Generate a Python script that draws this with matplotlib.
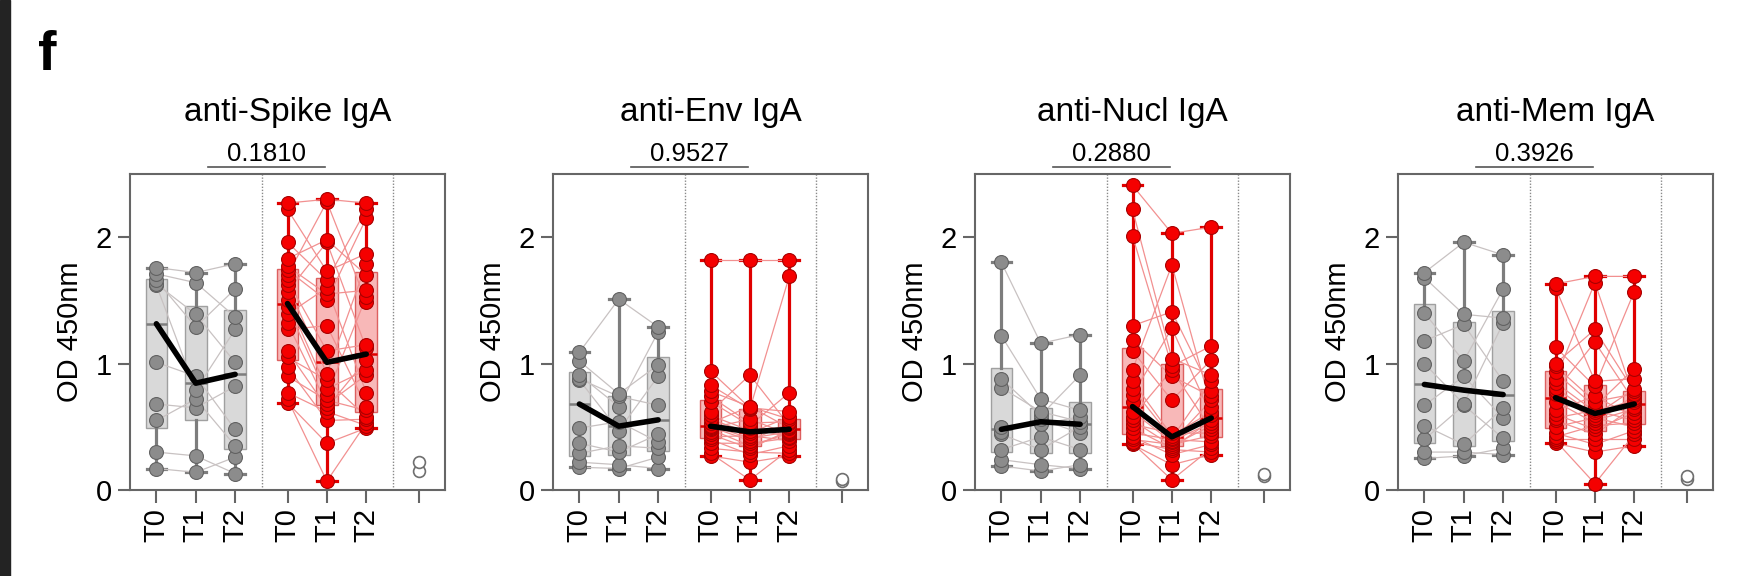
import numpy as np
import matplotlib
matplotlib.use('Agg')
import matplotlib.pyplot as plt
from matplotlib.transforms import blended_transform_factory

plt.rcParams['font.family'] = ['Liberation Sans', 'DejaVu Sans']

# --- data (OD 450nm), each list sorted low -> high ---
titles = ['anti-Spike IgA', 'anti-Env IgA', 'anti-Nucl IgA', 'anti-Mem IgA']
p_values = ['0.1810', '0.9527', '0.2880', '0.3926']
time_labels = ['T0', 'T1', 'T2']

spike_grey_t0 = [0.17, 0.30, 0.55, 0.68, 1.01, 1.62, 1.63, 1.66, 1.71, 1.76]
spike_grey_t1 = [0.14, 0.27, 0.65, 0.72, 0.79, 0.90, 1.29, 1.39, 1.64, 1.72]
spike_grey_t2 = [0.13, 0.26, 0.35, 0.48, 0.82, 1.01, 1.27, 1.37, 1.59, 1.79]
spike_red_t0 = [0.69, 0.72, 0.77, 0.90, 0.97, 1.05, 1.10, 1.27, 1.32, 1.39, 1.45,
                1.50, 1.57, 1.62, 1.66, 1.70, 1.74, 1.77, 1.83, 1.96, 2.22, 2.27]
spike_red_t1 = [0.07, 0.37, 0.55, 0.62, 0.65, 0.68, 0.71, 0.75, 0.80, 0.87, 0.92,
                1.10, 1.30, 1.50, 1.55, 1.60, 1.66, 1.73, 1.96, 1.98, 2.28, 2.30]
spike_red_t2 = [0.49, 0.51, 0.53, 0.56, 0.58, 0.63, 0.66, 0.77, 0.91, 0.95, 1.03,
                1.12, 1.15, 1.49, 1.53, 1.58, 1.70, 1.79, 1.87, 2.15, 2.22, 2.27]
spike_ctrl = [0.15, 0.22]

env_grey_t0 = [0.18, 0.22, 0.29, 0.37, 0.49, 0.87, 0.88, 0.91, 1.02, 1.09]
env_grey_t1 = [0.17, 0.20, 0.30, 0.35, 0.47, 0.54, 0.66, 0.74, 0.76, 1.51]
env_grey_t2 = [0.17, 0.26, 0.33, 0.38, 0.44, 0.67, 0.90, 0.99, 1.25, 1.29]
env_red_t0 = [0.27, 0.29, 0.33, 0.37, 0.40, 0.42, 0.44, 0.46, 0.48, 0.49, 0.50,
              0.51, 0.53, 0.56, 0.59, 0.62, 0.70, 0.74, 0.78, 0.83, 0.94, 1.82]
env_red_t1 = [0.08, 0.22, 0.28, 0.30, 0.33, 0.35, 0.37, 0.39, 0.41, 0.43, 0.45,
              0.47, 0.49, 0.51, 0.53, 0.56, 0.64, 0.65, 0.66, 0.66, 0.91, 1.82]
env_red_t2 = [0.27, 0.29, 0.32, 0.35, 0.39, 0.41, 0.42, 0.44, 0.45, 0.46, 0.47,
              0.49, 0.50, 0.51, 0.53, 0.54, 0.56, 0.58, 0.62, 0.77, 1.69, 1.82]
env_ctrl = [0.07, 0.09]

nucl_grey_t0 = [0.19, 0.24, 0.32, 0.44, 0.46, 0.50, 0.81, 0.88, 1.22, 1.80]
nucl_grey_t1 = [0.15, 0.20, 0.32, 0.42, 0.52, 0.56, 0.59, 0.62, 0.72, 1.16]
nucl_grey_t2 = [0.17, 0.20, 0.32, 0.45, 0.50, 0.54, 0.58, 0.63, 0.91, 1.23]
nucl_red_t0 = [0.36, 0.37, 0.38, 0.40, 0.42, 0.45, 0.49, 0.52, 0.55, 0.58, 0.62,
               0.70, 0.75, 0.80, 0.86, 0.95, 1.10, 1.19, 1.30, 2.01, 2.22, 2.41]
nucl_red_t1 = [0.08, 0.20, 0.28, 0.32, 0.33, 0.35, 0.36, 0.38, 0.39, 0.40, 0.41,
               0.43, 0.45, 0.71, 0.90, 0.95, 0.98, 1.04, 1.28, 1.41, 1.78, 2.03]
nucl_red_t2 = [0.28, 0.30, 0.33, 0.36, 0.38, 0.43, 0.45, 0.48, 0.51, 0.53, 0.55,
               0.59, 0.62, 0.66, 0.71, 0.74, 0.78, 0.86, 0.91, 1.03, 1.14, 2.08]
nucl_ctrl = [0.11, 0.13]

mem_grey_t0 = [0.25, 0.30, 0.40, 0.51, 0.67, 1.00, 1.18, 1.40, 1.68, 1.72]
mem_grey_t1 = [0.27, 0.30, 0.36, 0.67, 0.68, 0.90, 1.02, 1.31, 1.39, 1.96]
mem_grey_t2 = [0.28, 0.33, 0.41, 0.57, 0.65, 0.86, 1.32, 1.36, 1.59, 1.86]
mem_red_t0 = [0.37, 0.39, 0.40, 0.42, 0.45, 0.50, 0.55, 0.57, 0.60, 0.63, 0.70,
              0.76, 0.78, 0.81, 0.85, 0.88, 0.93, 0.98, 1.00, 1.13, 1.60, 1.63]
mem_red_t1 = [0.05, 0.30, 0.36, 0.40, 0.44, 0.48, 0.51, 0.53, 0.55, 0.57, 0.59,
              0.62, 0.63, 0.66, 0.70, 0.74, 0.82, 0.86, 1.17, 1.27, 1.64, 1.69]
mem_red_t2 = [0.35, 0.40, 0.44, 0.47, 0.50, 0.53, 0.55, 0.58, 0.61, 0.64, 0.66,
              0.70, 0.71, 0.73, 0.75, 0.76, 0.78, 0.80, 0.88, 0.96, 1.57, 1.69]
mem_ctrl = [0.09, 0.11]

# pairing: subject with T0 rank i has rank pair_t1[i] at T1 and pair_t2[i] at T2
grey_pair_t1 = [0, 1, 3, 2, 5, 4, 7, 6, 8, 9]
grey_pair_t2 = [1, 0, 2, 4, 3, 6, 5, 8, 7, 9]
red_pair_t1 = [1, 0, 3, 6, 2, 9, 4, 12, 5, 15, 7, 8, 18, 10, 11, 20, 13, 14, 19, 16, 17, 21]
red_pair_t2 = [0, 2, 1, 5, 3, 4, 10, 6, 8, 7, 14, 9, 11, 17, 12, 13, 19, 15, 16, 20, 18, 21]

panels = [
    (spike_grey_t0, spike_grey_t1, spike_grey_t2, spike_red_t0, spike_red_t1, spike_red_t2, spike_ctrl),
    (env_grey_t0, env_grey_t1, env_grey_t2, env_red_t0, env_red_t1, env_red_t2, env_ctrl),
    (nucl_grey_t0, nucl_grey_t1, nucl_grey_t2, nucl_red_t0, nucl_red_t1, nucl_red_t2, nucl_ctrl),
    (mem_grey_t0, mem_grey_t1, mem_grey_t2, mem_red_t0, mem_red_t1, mem_red_t2, mem_ctrl),
]

grey_x = [0, 1, 2]
red_x = [3.33, 4.33, 5.33]
ctrl_x = 6.67
axis_col = '#666666'

grey_style = dict(box_fc='#d9d9d9', box_ec='#a0a0a0', wc='#7d7d7d', line='#c8c2c2',
                  mfc='#8c8c8c', mec='#626262')
red_style = dict(box_fc='#f8b8b8', box_ec='#dd6060', wc='#e00000', line='#f29090',
                 mfc='#f50000', mec='#a80000')


def draw_group(ax, xs, series, pair1, pair2, st):
    t0, t1, t2 = [np.asarray(s) for s in series]
    # paired lines per subject
    for i in range(len(t0)):
        ax.plot(xs, [t0[i], t1[pair1[i]], t2[pair2[i]]], color=st['line'],
                lw=0.9, zorder=1.5)
    stats = []
    for v in (t0, t1, t2):
        q1, med, q3 = np.percentile(v, [25, 50, 75], method='weibull')
        stats.append(dict(med=med, q1=q1, q3=q3, whislo=v.min(), whishi=v.max(), fliers=[]))
    ax.bxp(stats, positions=xs, widths=0.55, capwidths=0.5, showfliers=False,
           patch_artist=True, manage_ticks=False, zorder=1,
           boxprops=dict(facecolor=st['box_fc'], edgecolor=st['box_ec'], linewidth=1),
           whiskerprops=dict(color=st['wc'], linewidth=2.3),
           capprops=dict(color=st['wc'], linewidth=2.3),
           medianprops=dict(color=st['wc'], linewidth=1.8))
    for x, v in zip(xs, (t0, t1, t2)):
        ax.plot([x] * len(v), v, 'o', ms=10, mfc=st['mfc'], mec=st['mec'], mew=0.8,
                zorder=3, clip_on=False)
    ax.plot(xs, [s['med'] for s in stats], color='black', lw=4, zorder=4,
            solid_capstyle='round')


fig = plt.figure(figsize=(17.5, 5.76), dpi=100)
fig.add_artist(plt.Rectangle((0, 0), 10 / 1750, 1, transform=fig.transFigure,
                             color='#232323', zorder=0))
fig.text(38 / 1750, 1 - 70 / 576, 'f', fontsize=40, fontweight='bold', va='baseline')

lefts = [130, 553, 975, 1398]
for k, (g0, g1, g2, r0, r1, r2, ctrl) in enumerate(panels):
    ax = fig.add_axes([lefts[k] / 1750, 1 - 490 / 576, 315 / 1750, 316 / 576])
    draw_group(ax, grey_x, (g0, g1, g2), grey_pair_t1, grey_pair_t2, grey_style)
    draw_group(ax, red_x, (r0, r1, r2), red_pair_t1, red_pair_t2, red_style)
    ax.plot([ctrl_x] * len(ctrl), ctrl, 'o', ms=8.5, mfc='white', mec='#6f6f6f',
            mew=1.2, zorder=3)

    for xv in (2.67, 6.0):
        ax.axvline(xv, color='#8a8a8a', ls=(0, (1, 1.2)), lw=1, zorder=0.5)

    ax.set_xlim(-0.67, 7.33)
    ax.set_ylim(0, 2.5)
    ax.set_yticks([0, 1, 2])
    ax.set_xticks(grey_x + red_x + [ctrl_x])
    ax.set_xticklabels(time_labels * 2 + [''], rotation=90)
    ax.tick_params(axis='both', length=9, width=1.5, color=axis_col, labelsize=21, pad=4)
    for sp in ax.spines.values():
        sp.set_color(axis_col)
        sp.set_linewidth(1.5)

    ax.set_ylabel('OD 450nm', fontsize=21)
    ax.yaxis.set_label_coords(-0.145, 0.5)

    ax.text(0.5, 1.168, titles[k], transform=ax.transAxes, ha='center',
            va='baseline', fontsize=24)
    trans = blended_transform_factory(ax.transData, ax.transAxes)
    ax.plot([1.32, 4.27], [1.022, 1.022], transform=trans, color='#555555',
            lw=1.2, clip_on=False)
    ax.text(2.8, 1.041, p_values[k], transform=trans, ha='center', va='baseline',
            fontsize=18.5)

fig.savefig('out.png', dpi=100)
